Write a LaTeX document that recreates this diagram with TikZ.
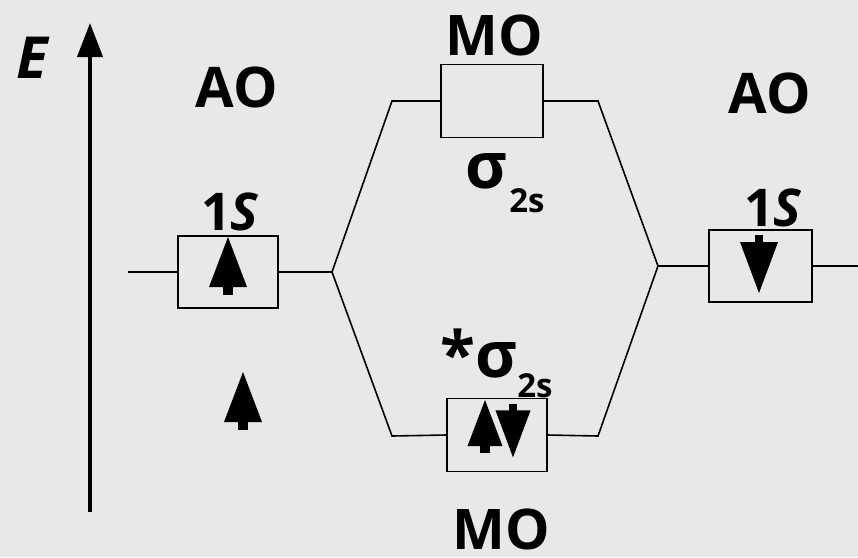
\documentclass[tikz,border=0pt]{standalone}
\usepackage{fontspec}
\setsansfont{Open Sans}
\usetikzlibrary{positioning,arrows.meta}
\definecolor{PaperGray}{RGB}{232,232,232}
\tikzset{
  lvl/.style={draw=black,line width=1.6pt,minimum width=100pt,minimum height=72pt,inner sep=0pt},
  link/.style={draw=black,line width=1.6pt},
  big/.style={font=\sffamily\bfseries\fontsize{56}{60}\selectfont,inner sep=0pt,anchor=base},
  orb/.style={font=\sffamily\bfseries\fontsize{52}{56}\selectfont,inner sep=0pt,anchor=base},
  sig/.style={font=\sffamily\bfseries\fontsize{64}{66}\selectfont,inner sep=0pt,anchor=base},
  sub/.style={font=\sffamily\bfseries\fontsize{33}{36}\selectfont,inner sep=0pt,anchor=base},
  spinup/.pic={\fill (0,0) -- (-19,50) -- (19,50) -- cycle; \fill (-5,49) rectangle (5,58);},
  spindown/.pic={\fill (-4,0) rectangle (4,8); \fill (-19,7) -- (19,7) -- (0,58) -- cycle;},
}
\begin{document}
\begin{tikzpicture}[x=1pt,y=-1pt]
\fill[PaperGray] (0,0) rectangle (858,557);
\useasboundingbox (0,0) rectangle (858,557);
% energy axis
\coordinate (axB) at (90,512);
\coordinate (axT) at (90,23);
\draw[line width=4pt,-{Triangle[length=34pt,width=25pt]}] (axB) -- (axT);
\node[big,font=\sffamily\bfseries\itshape\fontsize{58}{60}\selectfont] (lblE) at (32,78) {E};
% levels
\node[lvl] (boxL) at (228,272) {};
\node[lvl,minimum width=103pt] (boxR) at (760.5,266) {};
\node[lvl,minimum width=102pt,minimum height=73pt] (moUp) at (492,101) {};
\node[lvl,minimum height=73pt] (moDn) at (497,435) {};
\coordinate (endL) at (128,272);
\coordinate (jL) at (332,272);
\coordinate (endR) at (858,266);
\coordinate (jR) at (658,266);
\coordinate (tL) at (392,101);
\coordinate (tR) at (598,101);
\coordinate (bL) at (392,436);
\coordinate (bR) at (598,436);
% connectors
\draw[link] (endL) -- (boxL.west);
\draw[link] (boxL.east) -- (jL);
\draw[link] (jL) -- (tL) -- (moUp.west);
\draw[link] (jL) -- (bL) -- (moDn.west);
\draw[link] (moUp.east) -- (tR) -- (jR);
\draw[link] (moDn.east) -- (bR) -- (jR);
\draw[link] (jR) -- (boxR.west);
\draw[link] (boxR.east) -- (endR);
% labels
\node[big] (aoL) at (237,107) {AO};
\node[big] (aoR) at (770,113) {AO};
\node[big] (mo1) at (494,55) {MO};
\node[big] (mo2) at (501,549) {MO};
\node[orb] (sL) at (230,230) {1\textit{S}};
\node[orb] (sR) at (773,226) {1\textit{S}};
\node[sig] (sgUp) at (486,188) {σ};
\node[sub] (sgUpSub) at (527,212) {2s};
\node[sig] (sgDn) at (479,377) {*σ};
\node[sub] (sgDnSub) at (535,397) {2s};
% electrons
\pic at (228,237) {spinup};
\pic at (759,235) {spindown};
\pic[scale=0.92] at (485,400) {spinup};
\pic[scale=0.92] at (513,404) {spindown};
\pic at (243,372) {spinup};
\end{tikzpicture}
\end{document}
